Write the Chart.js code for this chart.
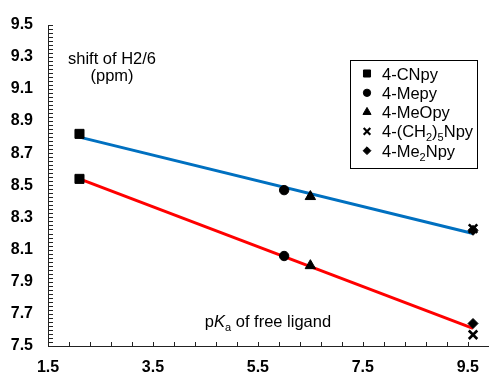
<!DOCTYPE html>
<html>
<head>
<meta charset="utf-8">
<script src="https://cdn.jsdelivr.net/npm/chart.js@4.4.1/dist/chart.umd.min.js"></script>
<style>
  html, body { margin: 0; padding: 0; background: #fff; }
  #wrap { width: 491px; height: 374px; }
</style>
</head>
<body>
<div id="wrap"><canvas id="chart"></canvas></div>
<script>
// ===== data =====
const compounds = ['4-CNpy', '4-Mepy', '4-MeOpy', '4-(CH_2)_5Npy', '4-Me_2Npy'];
const pKa = [2.1, 6.0, 6.5, 9.6, 9.6];
const shiftUpper = [8.82, 8.47, 8.43, 8.23, 8.22];
const shiftLower = [8.54, 8.06, 8.00, 7.57, 7.64];
const markers = ['rect', 'circle', 'triangle', 'crossRot', 'rectRot'];

// trend lines (end points)
const fitX = [2.1, 9.6];
const fitUpperY = [8.80, 8.20];
const fitLowerY = [8.54, 7.61];

const xTicks = [1.5, 3.5, 5.5, 7.5, 9.5];
const yTicks = [7.5, 7.7, 7.9, 8.1, 8.3, 8.5, 8.7, 8.9, 9.1, 9.3, 9.5];

const FONT = "'Liberation Sans', Arial, sans-serif";
const markerRadius = { rect: 6.4, circle: 4.7, triangle: 6, crossRot: 6, rectRot: 5 };

// ===== datasets =====
const pointSets = compounds.map((name, i) => ({
    label: name,
    data: [{ x: pKa[i], y: shiftUpper[i] }, { x: pKa[i], y: shiftLower[i] }],
    pointStyle: markers[i],
    pointRadius: markerRadius[markers[i]],
    backgroundColor: '#000',
    borderColor: '#000',
    borderWidth: markers[i] === 'crossRot' ? 2.6 : 1,
    showLine: false,
    clip: false
}));

const lineSets = [
    { label: 'fitUpper', data: fitX.map((x, i) => ({ x, y: fitUpperY[i] })), borderColor: '#0070C0' },
    { label: 'fitLower', data: fitX.map((x, i) => ({ x, y: fitLowerY[i] })), borderColor: '#FF0000' }
].map(d => Object.assign(d, { showLine: true, pointRadius: 0, borderWidth: 3, clip: false }));

// ===== text with _x subscripts =====
function drawRich(ctx, parts, x, y, align, size) {
    // parts: [text, style] style: '' | 'i' | 's'
    size = size || 16;
    const subSize = 11;
    const fontOf = st => st === 's' ? `${subSize}px ${FONT}` : (st === 'i' ? `italic ${size}px ${FONT}` : `${size}px ${FONT}`);
    let total = 0;
    parts.forEach(([t, st]) => { ctx.font = fontOf(st); total += ctx.measureText(t).width; });
    let cx = align === 'center' ? x - total / 2 : x;
    ctx.textAlign = 'left';
    ctx.textBaseline = 'alphabetic';
    parts.forEach(([t, st]) => {
        ctx.font = fontOf(st);
        ctx.fillText(t, cx, st === 's' ? y + 4 : y);
        cx += ctx.measureText(t).width;
    });
}

function parseSub(label) {
    const parts = [];
    let buf = '';
    for (let i = 0; i < label.length; i++) {
        if (label[i] === '_') {
            if (buf) parts.push([buf, '']);
            buf = '';
            parts.push([label[i + 1], 's']);
            i++;
        } else buf += label[i];
    }
    if (buf) parts.push([buf, '']);
    return parts;
}

function drawMarker(ctx, style, r, x, y) {
    ctx.save();
    ctx.fillStyle = '#000';
    ctx.strokeStyle = '#000';
    if (Chart.helpers && Chart.helpers.drawPoint) {
        ctx.lineWidth = style === 'crossRot' ? 2.2 : 1;
        Chart.helpers.drawPoint(ctx, { pointStyle: style, radius: r, rotation: 0, borderWidth: ctx.lineWidth }, x, y);
    }
    ctx.restore();
}

// ===== plugin: axis lines, inward ticks, labels, legend =====
const decorPlugin = {
    id: 'decor',
    afterDraw(chart) {
        const ctx = chart.ctx;
        const xs = chart.scales.x, ys = chart.scales.y;
        const L = Math.round(xs.getPixelForValue(xs.min));
        const B = Math.round(ys.getPixelForValue(ys.min));
        const T = Math.round(ys.getPixelForValue(ys.max));
        const R = chart.width - 2;
        ctx.save();
        ctx.fillStyle = '#222';
        ctx.fillRect(L, T, 1, B - T + 1);
        ctx.fillRect(L, B, R - L, 1);
        for (let k = 0; k <= 20; k++) {
            const px = Math.round(xs.getPixelForValue(1.5 + k * 0.4));
            ctx.fillRect(px, B - 4, 1, 4);
        }
        for (let k = 0; k <= 80; k++) {
            const py = Math.round(ys.getPixelForValue(7.5 + k * 0.025));
            ctx.fillRect(L + 1, py, 4, 1);
        }

        ctx.fillStyle = '#000';
        ctx.textAlign = 'center';
        ctx.font = `16.5px ${FONT}`;
        ctx.fillText('shift of H2/6', 112, 64);
        ctx.fillText('(ppm)', 112, 81);
        drawRich(ctx, [['p', ''], ['K', 'i'], ['a', 's'], [' of free ligand', '']], 268, 327, 'center', 16.5);

        // legend box
        ctx.strokeStyle = '#000';
        ctx.lineWidth = 1;
        ctx.strokeRect(350.5, 60.5, 127, 108);
        compounds.forEach((name, i) => {
            const y = 73.5 + i * 19.3;
            drawMarker(ctx, markers[i], markerRadius[markers[i]] * 0.78, 367, y);
            ctx.fillStyle = '#000';
            drawRich(ctx, parseSub(name), 382, y + 6, 'left', 16.5);
        });
        ctx.restore();
    }
};

// ===== chart =====
new Chart(document.getElementById('chart'), {
    type: 'scatter',
    data: { datasets: [...pointSets, ...lineSets] },
    options: {
        responsive: true,
        maintainAspectRatio: false,
        animation: false,
        layout: { padding: { top: 23, right: 2, left: 0, bottom: 0 } },
        plugins: { legend: { display: false }, tooltip: { enabled: false } },
        scales: {
            x: {
                type: 'linear', min: 1.5, max: 9.59,
                afterBuildTicks: s => { s.ticks = xTicks.map(v => ({ value: v })); },
                afterFit: s => { s.height = 28; },
                grid: { display: false, drawTicks: false },
                border: { display: false },
                ticks: { autoSkip: false, maxRotation: 0, padding: 12, color: '#000',
                         font: { family: FONT, size: 16, weight: 'bold' },
                         callback: v => Number(v).toFixed(1) }
            },
            y: {
                type: 'linear', min: 7.5, max: 9.5,
                afterBuildTicks: s => { s.ticks = yTicks.map(v => ({ value: v })); },
                afterFit: s => { s.width = 48; },
                grid: { display: false, drawTicks: false },
                border: { display: false },
                ticks: { autoSkip: false, padding: 15, color: '#000',
                         font: { family: FONT, size: 16, weight: 'bold' },
                         callback: v => Number(v).toFixed(1) }
            }
        }
    },
    plugins: [decorPlugin]
});
</script>
</body>
</html>
